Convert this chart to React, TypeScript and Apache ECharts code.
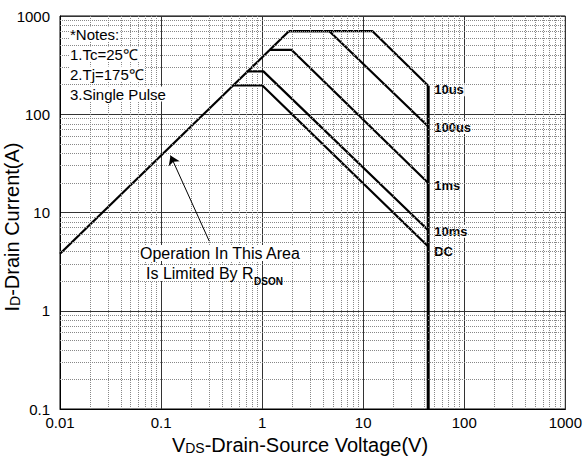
import React, { useEffect, useRef } from 'react';
import * as echarts from 'echarts';

const FONT = 'Arial, "Liberation Sans", Helvetica, sans-serif';

// Axis ranges (log)
const xRange: [number, number] = [0.01, 1000];
const yRange: [number, number] = [0.1, 1000];
const minorSteps = [2, 3, 4, 5, 6, 7, 8, 9];

// RDS(on) limited line
const rdsonLimit: [number, number][] = [[0.01, 3.8], [1.85, 703]];
// Pulse-width curves [Vds, Id]
const pulse10us: [number, number][] = [[1.85, 703], [12.3, 703], [44, 195]];
const pulse100us: [number, number][] = [[1.85, 703], [4.6, 703], [44, 75]];
const pulse1ms: [number, number][] = [[1.19, 453], [1.95, 453], [44, 20]];
const pulse10ms: [number, number][] = [[0.72, 273], [1.03, 273], [44, 6.6]];
const pulseDC: [number, number][] = [[0.52, 197], [1.0, 197], [44, 4.5]];
// BVdss vertical limit
const vdsLimit: [number, number][] = [[44, 0.1], [44, 195]];

const curveNames = ['10us', '100us', '1ms', '10ms', 'DC'];
const curveData = [pulse10us, pulse100us, pulse1ms, pulse10ms, pulseDC];
const labelOffsets: [number, number][] = [[0, 4], [0, 1], [0, 3], [0, 1], [0, 5]];

// annotation arrow (data coords)
const arrowFrom: [number, number] = [0.3, 5.1];
const arrowTo: [number, number] = [0.124, 38];

const notes = ['*Notes:', '1.Tc=25℃', '2.Tj=175℃', '3.Single Pulse'];

function minorValues(min: number, max: number): number[] {
  const out: number[] = [];
  for (let d = min; d < max * 0.999; d *= 10) {
    for (const k of minorSteps) out.push(+(d * k).toPrecision(3));
  }
  return out;
}

const fmt = (v: number) => String(+Number(v).toPrecision(4));

export default function App() {
  const ref = useRef<HTMLDivElement>(null);
  useEffect(() => {
    if (!ref.current) return;
    const chart = echarts.init(ref.current, undefined, { renderer: 'svg' });
    const curveStyle = { color: '#000', width: 2.2 };
    const minorX = minorValues(xRange[0], xRange[1]);
    const minorY = minorValues(yRange[0], yRange[1]);

    const series: any[] = [
      {
        type: 'line',
        data: [],
        z: 1,
        silent: true,
        markLine: {
          silent: true,
          symbol: 'none',
          animation: false,
          emphasis: { disabled: true },
          label: { show: false },
          lineStyle: { color: '#888', width: 1, type: [1, 1] },
          data: [
            ...minorX.map((v) => ({ xAxis: v })),
            ...minorY.map((v) => ({ yAxis: v })),
          ],
        },
      },
      {
        type: 'line',
        data: rdsonLimit,
        symbol: 'none',
        lineStyle: curveStyle,
        z: 3,
        silent: true,
        markLine: {
          silent: true,
          animation: false,
          symbol: ['none', 'arrow'],
          symbolSize: 9,
          emphasis: { disabled: true },
          label: { show: false },
          lineStyle: { color: '#000', width: 1, type: 'solid' },
          data: [[{ coord: arrowFrom }, { coord: arrowTo }]],
        },
      },
      ...curveNames.map((name, i) => ({
        type: 'line',
        name,
        data: curveData[i],
        symbol: 'none',
        silent: true,
        lineStyle: curveStyle,
        z: 3,
        endLabel: {
          show: true,
          formatter: name,
          fontSize: 13,
          fontWeight: 'bold',
          fontFamily: FONT,
          color: '#000',
          distance: 5,
          offset: labelOffsets[i],
          backgroundColor: '#fff',
          padding: [0, 1],
        },
      })),
      {
        type: 'line',
        data: vdsLimit,
        symbol: 'none',
        silent: true,
        lineStyle: { color: '#000', width: 3 },
        z: 4,
      },
    ];

    const textStyleBase = { fill: '#000', fontFamily: FONT };

    chart.setOption({
      animation: false,
      backgroundColor: '#fff',
      grid: {
        left: 60,
        right: 17,
        top: 16,
        bottom: 48,
        show: true,
        borderColor: '#000',
        borderWidth: 1,
        backgroundColor: 'transparent',
      },
      xAxis: {
        type: 'log',
        logBase: 10,
        min: xRange[0],
        max: xRange[1],
        splitNumber: 5,
        axisLine: { show: true, lineStyle: { color: '#000', width: 1 } },
        axisTick: { show: false },
        axisLabel: {
          fontSize: 15,
          lineHeight: 15,
          color: '#000',
          fontFamily: FONT,
          margin: 6,
          formatter: fmt,
        },
        splitLine: { show: true, lineStyle: { color: '#333', width: 1 } },
      },
      yAxis: {
        type: 'log',
        logBase: 10,
        min: yRange[0],
        max: yRange[1],
        splitNumber: 4,
        axisLine: { show: true, lineStyle: { color: '#000', width: 1 } },
        axisTick: { show: false },
        axisLabel: { fontSize: 15, color: '#000', fontFamily: FONT, margin: 10, formatter: fmt },
        splitLine: { show: true, lineStyle: { color: '#333', width: 1 } },
      },
      series,
      graphic: [
        {
          type: 'text',
          x: 12,
          y: 227,
          rotation: Math.PI / 2,
          z: 100,
          style: {
            text: '{a|I}{b|D}{a|-Drain Current(A)}',
            textAlign: 'center',
            textVerticalAlign: 'middle',
            fill: '#000',
            rich: {
              a: { fontSize: 20, lineHeight: 20, fontFamily: FONT, fill: '#000', verticalAlign: 'bottom' },
              b: { fontSize: 14, lineHeight: 20, fontFamily: FONT, fill: '#000', verticalAlign: 'bottom' },
            },
          },
        },
        {
          type: 'text',
          x: 300,
          y: 445,
          z: 100,
          style: {
            text: '{a|V}{b|DS}{a|-Drain-Source Voltage(V)}',
            textAlign: 'center',
            textVerticalAlign: 'middle',
            fill: '#000',
            rich: {
              a: { fontSize: 20, lineHeight: 20, fontFamily: FONT, fill: '#000', verticalAlign: 'bottom' },
              b: { fontSize: 14, lineHeight: 20, fontFamily: FONT, fill: '#000', verticalAlign: 'bottom' },
            },
          },
        },
        ...notes.map((t, i) => ({
          type: 'text',
          x: 69,
          y: 34 + 20 * i,
          z: 100,
          style: {
            ...textStyleBase,
            text: t,
            fontSize: 15,
            textAlign: 'left',
            textVerticalAlign: 'middle',
            backgroundColor: '#fff',
            padding: [0, 1],
          },
        })),
        {
          type: 'text',
          x: 139,
          y: 253,
          z: 100,
          style: {
            ...textStyleBase,
            text: 'Operation In This Area',
            fontSize: 16,
            textAlign: 'left',
            textVerticalAlign: 'middle',
            backgroundColor: '#fff',
            padding: [0, 1],
          },
        },
        {
          type: 'text',
          x: 145,
          y: 273,
          z: 100,
          style: {
            ...textStyleBase,
            text: 'Is Limited By R',
            fontSize: 16,
            textAlign: 'left',
            textVerticalAlign: 'middle',
            backgroundColor: '#fff',
            padding: [0, 1],
          },
        },
        {
          type: 'text',
          x: 254,
          y: 281,
          z: 100,
          style: {
            ...textStyleBase,
            text: 'DSON',
            fontSize: 10,
            fontWeight: 'bold',
            textAlign: 'left',
            textVerticalAlign: 'middle',
          },
        },
      ],
    });
    return () => chart.dispose();
  }, []);

  return (
    <div
      ref={ref}
      style={{ position: 'absolute', left: 0, top: 0, width: 585, height: 457 }}
    />
  );
}
